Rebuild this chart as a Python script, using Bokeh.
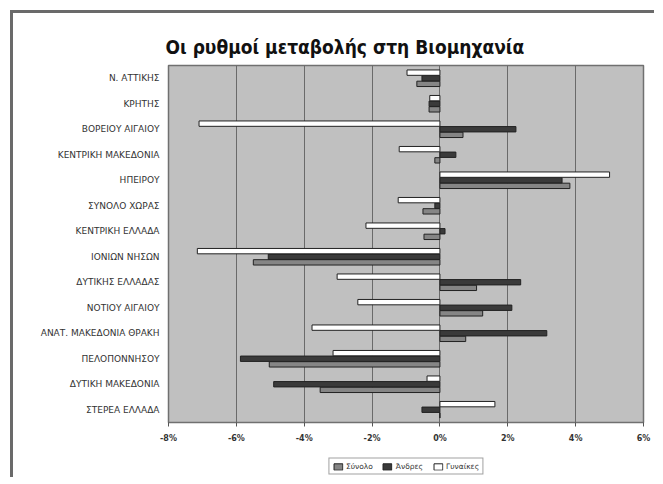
from bokeh.plotting import figure
from bokeh.layouts import column
from bokeh.models import Range1d, FactorRange, FixedTicker, PrintfTickFormatter, Legend, LegendItem, ColumnDataSource, Title
from bokeh.transform import dodge
from bokeh.embed import file_html
from bokeh.resources import INLINE

categories = ["Ν. ΑΤΤΙΚΗΣ", "ΚΡΗΤΗΣ", "ΒΟΡΕΙΟΥ ΑΙΓΑΙΟΥ", "ΚΕΝΤΡΙΚΗ ΜΑΚΕΔΟΝΙΑ", "ΗΠΕΙΡΟΥ",
              "ΣΥΝΟΛΟ ΧΩΡΑΣ", "ΚΕΝΤΡΙΚΗ ΕΛΛΑΔΑ", "ΙΟΝΙΩΝ ΝΗΣΩΝ", "ΔΥΤΙΚΗΣ ΕΛΛΑΔΑΣ",
              "ΝΟΤΙΟΥ ΑΙΓΑΙΟΥ", "ΑΝΑΤ. ΜΑΚΕΔΟΝΙΑ ΘΡΑΚΗ", "ΠΕΛΟΠΟΝΝΗΣΟΥ", "ΔΥΤΙΚΗ ΜΑΚΕΔΟΝΙΑ",
              "ΣΤΕΡΕΑ ΕΛΛΑΔΑ"]
synolo   = [-0.68, -0.32, 0.68, -0.15, 3.83, -0.50, -0.47, -5.50, 1.08, 1.26, 0.76, -5.03, -3.53, 0.0]
andres   = [-0.53, -0.32, 2.24, 0.47, 3.60, -0.15, 0.15, -5.06, 2.38, 2.12, 3.15, -5.88, -4.90, -0.53]
gynaikes = [-0.97, -0.30, -7.10, -1.20, 5.00, -1.23, -2.18, -7.15, -3.03, -2.42, -3.77, -3.15, -0.38, 1.62]
series_names = ["Σύνολο", "Άνδρες", "Γυναίκες"]
x_ticks = [-8, -6, -4, -2, 0, 2, 4, 6]

colors = {"s": "#858585", "a": "#3a3a3a", "g": "#ffffff"}

src = ColumnDataSource(dict(cat=categories, s=synolo, a=andres, g=gynaikes))

p = figure(width=644, height=441, output_backend="svg", toolbar_location=None,
           x_range=Range1d(-8, 6), y_range=FactorRange(*reversed(categories)),
           min_border_left=155, min_border_right=14, min_border_top=52, min_border_bottom=32)
p.styles = {"border-left": "3px solid #6a6a6a", "border-top": "3px solid #6a6a6a"}

p.add_layout(Title(text="Οι ρυθμοί μεταβολής στη Βιομηχανία", align="left", offset=-3,
                   text_font="DejaVu Sans Condensed", text_font_size="19px",
                   text_font_style="bold", text_color="#111111", standoff=15), "above")

p.background_fill_color = "#c0c0c0"
p.border_fill_color = "white"
p.outline_line_color = "#707070"
p.outline_line_width = 1.5

p.ygrid.grid_line_color = None
p.xgrid.grid_line_color = "#6a6a6a"
p.xgrid.grid_line_width = 1
p.xaxis.ticker = FixedTicker(ticks=x_ticks)
p.xaxis.formatter = PrintfTickFormatter(format="%d%%")
p.xaxis.axis_line_color = None
p.xaxis.major_tick_in = 0
p.xaxis.major_tick_out = 4
p.xaxis.major_tick_line_color = "#555555"
p.xaxis.minor_tick_line_color = None
p.xaxis.major_label_text_font = "DejaVu Sans"
p.xaxis.major_label_text_font_size = "8px"
p.xaxis.major_label_text_font_style = "bold"
p.xaxis.major_label_text_color = "#333333"
p.xaxis.major_label_standoff = 7

p.yaxis.axis_line_color = None
p.yaxis.major_tick_line_color = None
p.yaxis.minor_tick_line_color = None
p.yaxis.major_label_text_font = "DejaVu Sans"
p.yaxis.major_label_text_font_size = "9px"
p.yaxis.major_label_text_color = "#333333"
p.yaxis.major_label_standoff = 3

h = 0.21
p.hbar(y=dodge("cat", -0.22, range=p.y_range), left=0, right="s", height=h, source=src,
       fill_color=colors["s"], line_color="#222222", line_width=1)
p.hbar(y=dodge("cat", 0.0, range=p.y_range), left=0, right="a", height=h, source=src,
       fill_color=colors["a"], line_color="#222222", line_width=1)
p.hbar(y=dodge("cat", 0.22, range=p.y_range), left=0, right="g", height=h, source=src,
       fill_color=colors["g"], line_color="#222222", line_width=1)

# legend strip below the chart (legend-only renderers, placed outside the visible range)
p2 = figure(width=644, height=26, output_backend="svg", toolbar_location=None,
            x_axis_type=None, y_axis_type=None, x_range=Range1d(0, 1), y_range=Range1d(0, 1),
            min_border_left=140, min_border_right=0, min_border_top=4, min_border_bottom=0)
p2.styles = {"border-left": "3px solid #6a6a6a"}
p2.outline_line_color = None
p2.grid.visible = False
dummy = ColumnDataSource(dict(y=[-5.0], r=[0.0]))
items = []
for key, name in zip(["s", "a", "g"], series_names):
    rr = p2.hbar(y="y", left=0, right="r", height=0.1, source=dummy,
                 fill_color=colors[key], line_color="#222222", line_width=1)
    items.append(LegendItem(label=name, renderers=[rr]))

legend = Legend(items=items, orientation="horizontal", location="center",
                label_text_font="DejaVu Sans", label_text_font_size="7.5px",
                label_text_color="#333333", glyph_width=11, glyph_height=8,
                label_standoff=3, spacing=9, padding=3, margin=0,
                border_line_color="#444444", border_line_width=1.5,
                label_height=8)
p2.add_layout(legend, "center")

layout = column(p, p2, spacing=0, margin=(10, 0, 0, 10))
open("out.html", "w").write(file_html(layout, INLINE))
